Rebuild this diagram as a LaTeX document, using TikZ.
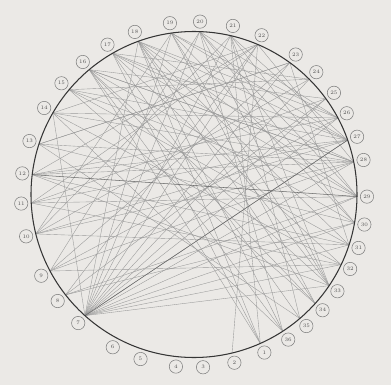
\documentclass[tikz,border=0pt]{standalone}
\usetikzlibrary{calc}
\definecolor{Paper}{HTML}{EBE9E6}
\definecolor{Ink}{HTML}{353535}

\begin{document}
\begin{tikzpicture}[x=0.03cm,y=0.03cm,
  lbl/.style={circle,draw=Ink!65,line width=0.45pt,fill=Paper,inner sep=0pt,
    minimum size=0.4cm,font=\fontsize{4.5}{5}\selectfont,text=Ink!85},
  chord/.style={Ink!50,line width=0.32pt},
  heavy/.style={Ink!75,line width=0.45pt},
  rim/.style={Ink,line width=0.9pt}]
  \fill[Paper] (-194,-190.5) rectangle (197,194.5);
  \useasboundingbox (-194,-190.5) rectangle (197,194.5);
  % points on the rim and their numbered tags
  \foreach \n/\a in {18/110,19/98,20/88,21/77,22/67,23/54,24/45,25/36,26/28,
      27/19.5,28/11.5,29/-0.7,30/-10,31/-18,32/-25.5,33/-34,34/-42,35/-49.5,
      36/-57,1/-66,2/-76.5,3/-87,4/-96,5/-108,6/-118,7/-132,8/-142,9/-152,
      10/-166,11/-177,12/173,13/162,14/150,15/140,16/130,17/120}{
    \coordinate (p\n) at (\a:163);
    \node[lbl] (n\n) at (\a:173) {\n};
  }
  % fan out of 7
  \foreach \v in {14,18,19,20,21,22,23,24,25,26,27,28,29,30,31,32,33}
    \draw[chord] (p7) -- (p\v);
  % the rest of the links
  \foreach \u/\v in {28/12,28/13,28/14,28/16,28/10,28/9,28/17,29/11,29/15,
      29/17,29/18,29/8,27/12,27/15,27/18,18/31,18/33,18/34,18/36,18/1,18/26,
      17/32,17/35,17/1,17/24,19/30,19/33,19/10,16/25,16/30,16/33,16/36,
      15/24,15/31,15/34,14/26,14/32,14/22,13/23,13/30,12/26,12/31,11/27,
      11/25,11/32,10/24,10/27,10/21,9/23,9/26,9/20,8/25,8/22,36/20,36/14,
      35/21,35/13,34/19,34/16,33/20,33/12,1/21,1/16,2/22,32/9,31/10,
      30/8,20/30,21/33,22/28,23/31,21/27,20/26,22/12,17/27,16/28,19/27,
      20/29,21/29,23/13,22/11,19/26}
    \draw[chord] (p\u) -- (p\v);
  \draw[heavy] (p12) -- (p29);
  \draw[heavy] (p7) -- (p27);
  \draw[rim] (0,0) circle (163);
\end{tikzpicture}
\end{document}
